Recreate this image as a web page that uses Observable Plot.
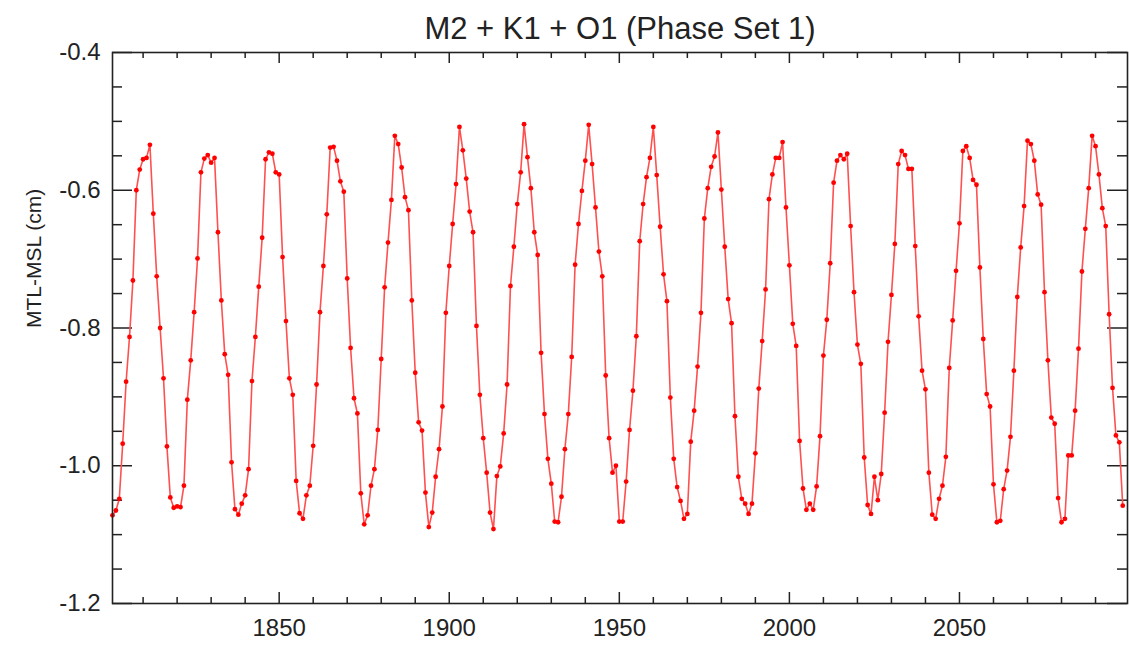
<!DOCTYPE html>
<html>
<head>
<meta charset="utf-8">
<script src="https://cdn.jsdelivr.net/npm/d3@7"></script>
<script src="https://cdn.jsdelivr.net/npm/@observablehq/plot@0.6"></script>
<style>
  html, body { margin: 0; padding: 0; background: #fff; }
  #chart svg { display: block; }
</style>
</head>
<body>
<div id="chart"></div>
<script>
const chartTitle = "M2 + K1 + O1 (Phase Set 1)";
const yAxisLabel = "MTL-MSL (cm)";
const startYear = 1801;

// MTL - MSL (cm), one value per year from 1801 to 2098
const mtlMinusMsl = [
  -1.072, -1.065, -1.048, -0.968, -0.878, -0.813, -0.731, -0.600, -0.570, -0.555,
  -0.553, -0.534, -0.634, -0.725, -0.800, -0.873, -0.972, -1.046, -1.061, -1.059,
  -1.060, -1.029, -0.904, -0.847, -0.777, -0.699, -0.574, -0.554, -0.549, -0.560,
  -0.553, -0.661, -0.760, -0.838, -0.868, -0.995, -1.063, -1.071, -1.055, -1.043,
  -1.005, -0.877, -0.813, -0.740, -0.669, -0.555, -0.545, -0.547, -0.574, -0.577,
  -0.697, -0.790, -0.873, -0.897, -1.022, -1.069, -1.077, -1.043, -1.029, -0.971,
  -0.882, -0.777, -0.710, -0.635, -0.538, -0.537, -0.557, -0.587, -0.602, -0.728,
  -0.829, -0.902, -0.924, -1.040, -1.085, -1.072, -1.029, -1.005, -0.948, -0.845,
  -0.741, -0.676, -0.614, -0.521, -0.533, -0.567, -0.610, -0.629, -0.760, -0.865,
  -0.937, -0.949, -1.039, -1.089, -1.068, -1.016, -0.976, -0.914, -0.778, -0.710,
  -0.649, -0.591, -0.508, -0.542, -0.583, -0.631, -0.661, -0.797, -0.897, -0.960,
  -1.010, -1.068, -1.092, -1.015, -1.001, -0.953, -0.882, -0.739, -0.682, -0.620,
  -0.574, -0.504, -0.552, -0.597, -0.661, -0.694, -0.836, -0.925, -0.990, -1.026,
  -1.081, -1.082, -1.045, -0.976, -0.925, -0.842, -0.708, -0.649, -0.601, -0.557,
  -0.505, -0.562, -0.625, -0.689, -0.725, -0.869, -0.960, -1.010, -1.000, -1.081,
  -1.081, -1.023, -0.948, -0.891, -0.812, -0.674, -0.620, -0.581, -0.553, -0.508,
  -0.578, -0.653, -0.722, -0.761, -0.901, -0.990, -1.031, -1.051, -1.077, -1.070,
  -0.965, -0.920, -0.856, -0.778, -0.641, -0.597, -0.566, -0.551, -0.516, -0.599,
  -0.682, -0.758, -0.793, -0.928, -1.016, -1.048, -1.055, -1.070, -1.055, -0.982,
  -0.888, -0.819, -0.744, -0.613, -0.577, -0.553, -0.553, -0.530, -0.625, -0.709,
  -0.794, -0.826, -0.964, -1.033, -1.064, -1.055, -1.064, -1.030, -0.957, -0.840,
  -0.788, -0.706, -0.589, -0.557, -0.549, -0.555, -0.547, -0.652, -0.748, -0.824,
  -0.852, -0.988, -1.057, -1.070, -1.016, -1.050, -1.012, -0.923, -0.820, -0.752,
  -0.678, -0.562, -0.543, -0.549, -0.569, -0.569, -0.681, -0.783, -0.862, -0.889,
  -1.010, -1.071, -1.077, -1.048, -1.029, -0.987, -0.858, -0.789, -0.717, -0.648,
  -0.543, -0.536, -0.553, -0.585, -0.592, -0.712, -0.816, -0.896, -0.914, -1.027,
  -1.082, -1.080, -1.034, -1.007, -0.958, -0.862, -0.755, -0.683, -0.623, -0.528,
  -0.533, -0.557, -0.606, -0.621, -0.748, -0.847, -0.930, -0.939, -1.047, -1.082,
  -1.077, -0.985, -0.985, -0.920, -0.830, -0.718, -0.656, -0.597, -0.521, -0.536,
  -0.577, -0.626, -0.652, -0.780, -0.887, -0.956, -0.966, -1.058
];

const xMajorTicks = [1850, 1900, 1950, 2000, 2050];
const xMinorTicks = [1810, 1820, 1830, 1840, 1860, 1870, 1880, 1890, 1910, 1920, 1930, 1940,
                     1960, 1970, 1980, 1990, 2010, 2020, 2030, 2040, 2060, 2070, 2080, 2090];
const yMajorTicks = [-1.2, -1.0, -0.8, -0.6, -0.4];
const yMinorTicks = [-1.15, -1.1, -1.05, -0.95, -0.9, -0.85, -0.75, -0.7, -0.65, -0.55, -0.5, -0.45];

const data = mtlMinusMsl.map((v, i) => ({year: startYear + i, value: v}));

const W = 1129, H = 648;
const mL = 112, mR = 2, mT = 52, mB = 45;
const innerW = W - mL - mR, innerH = H - mT - mB;
const font = "'Liberation Sans', Arial, Helvetica, sans-serif";
const axisColor = "#222";

const chart = Plot.plot({
  width: W,
  height: H,
  marginLeft: mL,
  marginRight: mR,
  marginTop: mT,
  marginBottom: mB,
  style: {fontFamily: font, background: "#fff", color: axisColor, overflow: "visible"},
  x: {domain: [1801, 2099.4]},
  y: {domain: [-1.2, -0.4]},
  marks: [
    // inward ticks, bottom and top
    Plot.ruleX(xMinorTicks, {stroke: axisColor, strokeWidth: 1.5, insetTop: innerH - 6}),
    Plot.ruleX(xMajorTicks, {stroke: axisColor, strokeWidth: 1.5, insetTop: innerH - 11}),
    Plot.ruleX(xMinorTicks, {stroke: axisColor, strokeWidth: 1.5, insetBottom: innerH - 6}),
    Plot.ruleX(xMajorTicks, {stroke: axisColor, strokeWidth: 1.5, insetBottom: innerH - 11}),
    // inward ticks, left and right
    Plot.ruleY(yMinorTicks, {stroke: axisColor, strokeWidth: 1.5, insetRight: innerW - 10}),
    Plot.ruleY(yMajorTicks, {stroke: axisColor, strokeWidth: 1.5, insetRight: innerW - 20}),
    Plot.ruleY(yMinorTicks, {stroke: axisColor, strokeWidth: 1.5, insetLeft: innerW - 10}),
    Plot.ruleY(yMajorTicks, {stroke: axisColor, strokeWidth: 1.5, insetLeft: innerW - 20}),
    Plot.axisX(xMajorTicks, {tickSize: 0, tickPadding: 15, fontSize: 24, label: null, tickFormat: d => String(d)}),
    Plot.axisY(yMajorTicks, {tickSize: 0, tickPadding: 12, fontSize: 24, label: null, tickFormat: d => d.toFixed(1)}),
    Plot.line(data, {x: "year", y: "value", stroke: "#ff5050", strokeWidth: 1.6}),
    Plot.dot(data, {x: "year", y: "value", r: 2.4, fill: "#ff0000", stroke: "none"}),
    Plot.frame({stroke: axisColor, strokeWidth: 1.6}),
    Plot.text([chartTitle], {frameAnchor: "top", lineAnchor: "middle", dy: -23, fontSize: 31, fill: axisColor}),
    Plot.text([yAxisLabel], {frameAnchor: "left", lineAnchor: "middle", dx: -78, rotate: -90, fontSize: 21, fill: axisColor})
  ]
});

document.getElementById("chart").appendChild(chart);
</script>
</body>
</html>
